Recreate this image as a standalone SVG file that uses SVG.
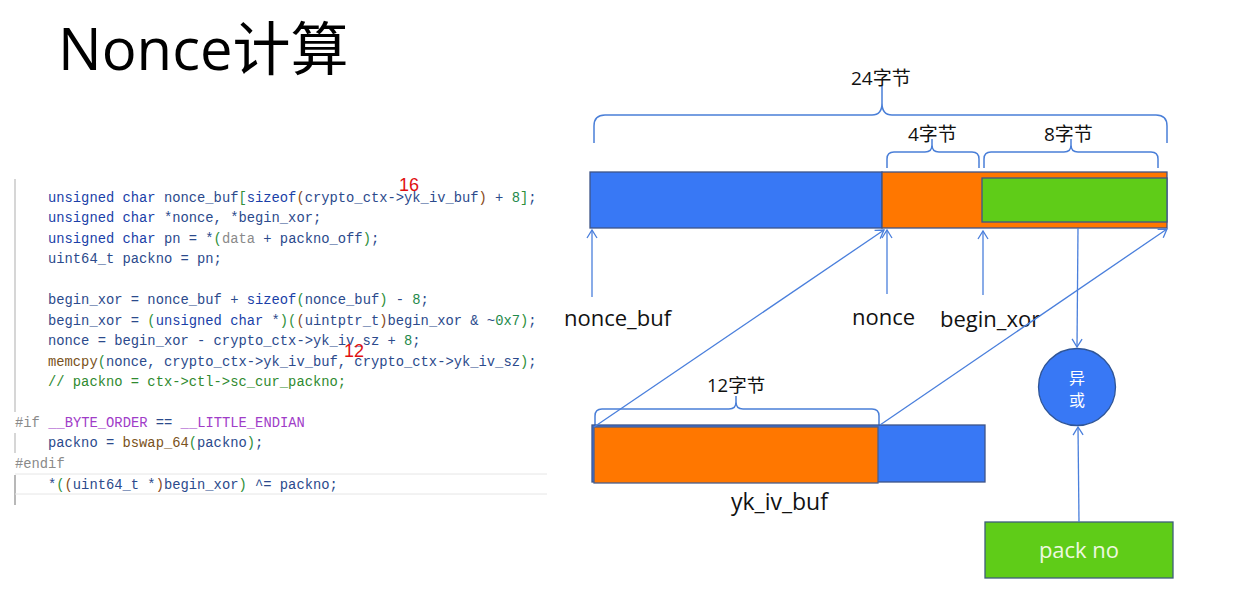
<svg xmlns="http://www.w3.org/2000/svg" width="1246" height="589" viewBox="0 0 1246 589">
  <style>
    .title { font-family: "Open Sans", "Noto Sans CJK SC", sans-serif; font-size: 58px; fill: #000; }
    .code { font-family: "Liberation Mono", monospace; font-size: 13.8px; fill: #2b4a8c; white-space: pre; }
    .k { fill: #1a3fa8; }
    .g { fill: #2f8f3a; }
    .b { fill: #8a4a1a; }
    .n { fill: #1f8a4c; }
    .gr { fill: #8a8a8a; }
    .f { fill: #7a5220; }
    .c { fill: #2f8a2f; }
    .m { fill: #a03cc8; }
    .red { font-family: "Liberation Sans", sans-serif; font-size: 18px; fill: #e01010; }
    .lbl { font-family: "Open Sans", "Noto Sans CJK SC", sans-serif; font-size: 22px; fill: #111; }
    .sz { font-family: "Open Sans", "Noto Sans CJK SC", sans-serif; font-size: 19px; fill: #111; }
    .cell { stroke: #3e5487; stroke-width: 1.3; }
    .blue { fill: #3878f5; }
    .orange { fill: #ff7700; }
    .green { fill: #5fcc18; }
    .brace { fill: none; stroke: #4a7fd8; stroke-width: 1.5; }
    .edge { fill: none; stroke: #4a7fdc; stroke-width: 1.3; }
    .gutter { stroke: #d6d6d6; stroke-width: 2; }
  </style>
  <defs>
    <marker id="arr" markerUnits="userSpaceOnUse" markerWidth="14" markerHeight="14" refX="9" refY="6" orient="auto">
      <path d="M1,1 L9,6 L1,11" fill="none" stroke="#4a7fdc" stroke-width="1.3"/>
    </marker>
  </defs>

  <rect width="1246" height="589" fill="#fff"/>

  <!-- heading -->
  <text class="title" x="58" y="70">Nonce计算</text>

  <!-- source listing -->
  <g id="code">
    <line class="gutter" x1="15" y1="179" x2="15" y2="412"/>
    <line class="gutter" x1="15" y1="433" x2="15" y2="453"/>
    <line x1="15" y1="475" x2="15" y2="505" stroke="#b8b8b8" stroke-width="2"/>
    <line x1="15" y1="474" x2="547" y2="474" stroke="#e6e6e6" stroke-width="1"/>
    <line x1="15" y1="494" x2="547" y2="494" stroke="#e6e6e6" stroke-width="1"/>

    <text class="code" x="48" y="202"><tspan class="k">unsigned char</tspan> nonce_buf<tspan class="g">[</tspan><tspan class="k">sizeof</tspan><tspan class="b">(</tspan>crypto_ctx-&gt;yk_iv_buf<tspan class="b">)</tspan> + <tspan class="n">8</tspan><tspan class="g">]</tspan>;</text>
    <text class="code" x="48" y="222"><tspan class="k">unsigned char</tspan> *nonce, *begin_xor;</text>
    <text class="code" x="48" y="243"><tspan class="k">unsigned char</tspan> pn = *<tspan class="g">(</tspan><tspan class="gr">data</tspan> + packno_off<tspan class="g">)</tspan>;</text>
    <text class="code" x="48" y="263">uint64_t packno = pn;</text>
    <text class="code" x="48" y="304">begin_xor = nonce_buf + <tspan class="k">sizeof</tspan><tspan class="g">(</tspan>nonce_buf<tspan class="g">)</tspan> - <tspan class="n">8</tspan>;</text>
    <text class="code" x="48" y="325">begin_xor = <tspan class="g">(</tspan><tspan class="k">unsigned char</tspan> *<tspan class="g">)(</tspan><tspan class="b">(</tspan>uintptr_t<tspan class="b">)</tspan>begin_xor &amp; ~<tspan class="n">0x7</tspan><tspan class="g">)</tspan>;</text>
    <text class="code" x="48" y="345">nonce = begin_xor - crypto_ctx-&gt;yk_iv_sz + <tspan class="n">8</tspan>;</text>
    <text class="code" x="48" y="366"><tspan class="f">memcpy</tspan><tspan class="g">(</tspan>nonce, crypto_ctx-&gt;yk_iv_buf, crypto_ctx-&gt;yk_iv_sz<tspan class="g">)</tspan>;</text>
    <text class="code c" x="48" y="386">// packno = ctx-&gt;ctl-&gt;sc_cur_packno;</text>
    <text class="code" x="15" y="427"><tspan class="gr">#if</tspan> <tspan class="m">__BYTE_ORDER</tspan> == <tspan class="m">__LITTLE_ENDIAN</tspan></text>
    <text class="code" x="48" y="447">packno = <tspan class="f">bswap_64</tspan><tspan class="g">(</tspan>packno<tspan class="g">)</tspan>;</text>
    <text class="code gr" x="15" y="468">#endif</text>
    <text class="code" x="48" y="489">*<tspan class="g">(</tspan><tspan class="b">(</tspan>uint64_t *<tspan class="b">)</tspan>begin_xor<tspan class="g">)</tspan> ^= packno;</text>

    <text class="red" x="399" y="191">16</text>
    <text class="red" x="344" y="357">12</text>
  </g>

  <!-- 24-byte nonce buffer -->
  <g id="nonce-buf">
    <rect class="cell blue" x="590" y="172" width="292" height="56"/>
    <rect class="cell orange" x="882" y="172" width="285" height="56"/>
    <rect class="cell green" x="982" y="178" width="185" height="44"/>
  </g>

  <!-- size braces -->
  <g id="brace-24">
    <path class="brace" d="M594,143 L594,126 Q594,115 605,115 L872,115 Q882,115 882,103 L882,86 L882,103 Q882,115 892,115 L1156,115 Q1167,115 1167,126 L1167,143"/>
    <text class="sz" x="851" y="85">24字节</text>
  </g>
  <g id="brace-4">
    <path class="brace" d="M887,168 L887,159 Q887,152 894,152 L925,152 Q932,152 932,145 L932,139 L932,145 Q932,152 939,152 L972,152 Q979,152 979,159 L979,168"/>
    <text class="sz" x="908" y="141">4字节</text>
  </g>
  <g id="brace-8">
    <path class="brace" d="M984,168 L984,159 Q984,152 991,152 L1064,152 Q1071,152 1071,145 L1071,139 L1071,145 Q1071,152 1078,152 L1151,152 Q1158,152 1158,159 L1158,168"/>
    <text class="sz" x="1044" y="141">8字节</text>
  </g>
  <g id="brace-12">
    <path class="brace" d="M595,425 L595,416 Q595,409 602,409 L729,409 Q736,409 736,402 L736,396 L736,402 Q736,409 743,409 L872,409 Q879,409 879,416 L879,425"/>
    <text class="sz" x="707" y="392" style="font-size:18.5px">12字节</text>
  </g>

  <!-- pointer labels -->
  <g id="label-nonce-buf"><text class="lbl" x="564" y="326">nonce_buf</text></g>
  <g id="label-nonce"><text class="lbl" x="852" y="325">nonce</text></g>
  <g id="label-begin-xor"><text class="lbl" x="940" y="327">begin_xor</text></g>

  <!-- iv buffer -->
  <g id="yk-iv-buf">
    <rect x="592" y="425" width="393" height="57" fill="#3878f5" stroke="#3e5487" stroke-width="1.3"/>
    <rect x="594" y="427" width="284" height="56" fill="#ff7700" stroke="#4a5f8a" stroke-width="1.3"/>
    <text class="lbl" x="731" y="510" style="font-size:23px">yk_iv_buf</text>
  </g>

  <!-- xor operator -->
  <g id="xor">
    <circle cx="1077" cy="387" r="38.5" fill="#3878f5" stroke="#2f5597" stroke-width="1.3"/>
    <text x="1077" y="384" text-anchor="middle" font-family="'Noto Sans CJK SC', sans-serif" font-size="16" fill="#fff">异</text>
    <text x="1077" y="406" text-anchor="middle" font-family="'Noto Sans CJK SC', sans-serif" font-size="16" fill="#fff">或</text>
  </g>

  <!-- packet number -->
  <g id="pack-no">
    <rect x="985" y="522" width="188" height="56" fill="#5fcc18" stroke="#3e5e7a" stroke-width="1.3"/>
    <text class="lbl" x="1079" y="558" text-anchor="middle" fill="#eef8e0" style="fill:#eef8e0">pack no</text>
  </g>

  <!-- connectors -->
  <g id="connectors">
    <line class="edge" x1="592" y1="297" x2="592" y2="230" marker-end="url(#arr)"/>
    <line class="edge" x1="887" y1="294" x2="887" y2="230" marker-end="url(#arr)"/>
    <line class="edge" x1="983" y1="295" x2="983" y2="231" marker-end="url(#arr)"/>
    <line class="edge" x1="594" y1="427" x2="884" y2="230" marker-end="url(#arr)"/>
    <line class="edge" x1="880" y1="425" x2="1167" y2="229" marker-end="url(#arr)"/>
    <line class="edge" x1="1078" y1="228" x2="1077" y2="347" marker-end="url(#arr)"/>
    <line class="edge" x1="1079" y1="522" x2="1078" y2="427" marker-end="url(#arr)"/>
  </g>
</svg>
